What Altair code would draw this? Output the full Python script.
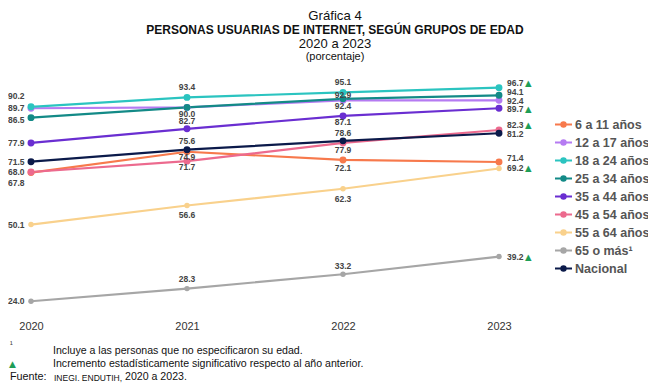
import json
import altair as alt
import pandas as pd

# ---------------- data ----------------
years = [2020, 2021, 2022, 2023]
series = ["6 a 11 años", "12 a 17 años", "18 a 24 años", "25 a 34 años",
          "35 a 44 años", "45 a 54 años", "55 a 64 años", "65 o más¹", "Nacional"]
v_6_11 = [67.8, 74.9, 72.1, 71.4]
v_12_17 = [89.7, 90.0, 92.4, 92.4]
v_18_24 = [90.2, 93.4, 95.1, 96.7]
v_25_34 = [86.5, 90.0, 92.9, 94.1]
v_35_44 = [77.9, 82.7, 87.1, 89.7]
v_45_54 = [68.0, 71.7, 77.9, 82.3]
v_55_64 = [50.1, 56.6, 62.3, 69.2]
v_65 = [24.0, 28.3, 33.2, 39.2]
v_nac = [71.5, 75.6, 78.6, 81.2]
values = [v_6_11, v_12_17, v_18_24, v_25_34, v_35_44, v_45_54, v_55_64, v_65, v_nac]
significant_2023 = ["18 a 24 años", "35 a 44 años", "45 a 54 años", "55 a 64 años", "65 o más¹"]
hidden_labels = [("12 a 17 años", 2021)]

# ---------------- style / layout ----------------
colors = ["#F7794C", "#B57BF2", "#2BC4C0", "#138A87", "#6A2ED1",
          "#EC6A8E", "#F9D18C", "#A6A6A6", "#0B1A4A"]
small_point_series = ["55 a 64 años", "65 o más¹"]
FONT = "Liberation Sans"
LABEL_COLOR = "#444444"
GREEN = "#1E9E57"

# label vertical nudges (pixels) for each (series, year)
LABEL_DY = {
    ("18 a 24 años", 2020): -11, ("6 a 11 años", 2020): 10, ("25 a 34 años", 2020): 2,
    ("18 a 24 años", 2021): -10, ("25 a 34 años", 2021): 7, ("35 a 44 años", 2021): -8,
    ("Nacional", 2021): -9, ("6 a 11 años", 2021): 5, ("45 a 54 años", 2021): 6,
    ("55 a 64 años", 2021): 10, ("65 o más¹", 2021): -10,
    ("18 a 24 años", 2022): -10, ("25 a 34 años", 2022): -4, ("12 a 17 años", 2022): 6,
    ("35 a 44 años", 2022): 6, ("Nacional", 2022): -8, ("45 a 54 años", 2022): 7,
    ("6 a 11 años", 2022): 8, ("55 a 64 años", 2022): 10, ("65 o más¹", 2022): -8,
    ("18 a 24 años", 2023): -5, ("25 a 34 años", 2023): -3, ("12 a 17 años", 2023): 1,
    ("35 a 44 años", 2023): 1, ("45 a 54 años", 2023): -5, ("Nacional", 2023): 1,
    ("6 a 11 años", 2023): -4,
}

rows = []
for s, vals in zip(series, values):
    for y, v in zip(years, vals):
        rows.append({"serie": s, "anio": y, "valor": v, "lbl": f"{v:.1f}"})
df = pd.DataFrame(rows)

x_enc = alt.X("anio:Q", scale=alt.Scale(domain=[2020, 2023], nice=False, zero=False),
              axis=alt.Axis(values=years, format="d", title=None, domain=False, ticks=False,
                            grid=False, labelFont=FONT, labelFontSize=11, labelColor="#333333",
                            labelPadding=7, labelFlush=False))
y_enc = alt.Y("valor:Q", scale=alt.Scale(domain=[20, 100], nice=False, zero=False), axis=None)
color_scale = alt.Scale(domain=series, range=colors)

LEG_PATH = ("M-1,0H1 M0.26,0A0.26,0.26 0 1,1 -0.26,0A0.26,0.26 0 1,1 0.26,0 "
            "M0.12,0A0.12,0.12 0 1,1 -0.12,0A0.12,0.12 0 1,1 0.12,0")

base = alt.Chart(df)
lines = base.mark_line(strokeWidth=2.2).encode(
    x=x_enc, y=y_enc, detail="serie:N",
    color=alt.Color("serie:N", scale=color_scale, sort=series,
                    legend=alt.Legend(title=None, orient="none", legendX=523, legendY=37,
                                      symbolType=LEG_PATH, symbolSize=289, symbolStrokeWidth=2,
                                      labelFont=FONT, labelFontSize=12.5, labelFontWeight="bold",
                                      labelColor="#555555", rowPadding=2, labelOffset=2)),
    order=alt.Order("anio:Q"),
)
points_big = base.transform_filter(
    f"indexof({json.dumps(small_point_series, ensure_ascii=False)}, datum.serie) < 0"
).mark_point(filled=True, size=48, opacity=1).encode(
    x=x_enc, y=y_enc,
    color=alt.Color("serie:N", scale=color_scale, sort=series, legend=None),
)
points_small = base.transform_filter(
    f"indexof({json.dumps(small_point_series, ensure_ascii=False)}, datum.serie) >= 0"
).mark_point(filled=True, size=30, opacity=1).encode(
    x=x_enc, y=y_enc,
    color=alt.Color("serie:N", scale=color_scale, sort=series, legend=None),
)

layers = [lines, points_big, points_small]


def sel(year, names):
    return f"datum.anio == {year} && indexof({json.dumps(names, ensure_ascii=False)}, datum.serie) >= 0"


# value labels grouped by placement
groups = {}
for s in series:
    for y in years:
        if (s, y) in hidden_labels:
            continue
        dy = LABEL_DY.get((s, y), 0)
        groups.setdefault((y, dy), []).append(s)

for (y, dy), ss in groups.items():
    if y == 2020:
        align, dx = "right", -6.5
    elif y == 2023:
        align, dx = "left", 8
    else:
        align, dx = "center", 0
    sub = base.transform_filter(sel(y, ss))
    layers.append(sub.mark_text(align=align, baseline="middle", dx=dx, dy=dy, font=FONT,
                                fontSize=8.5, fontWeight="bold", color=LABEL_COLOR).encode(
        x=x_enc, y=y_enc, text="lbl:N"))
    if y == 2023:
        sig = [s for s in ss if s in significant_2023]
        if sig:
            subs = base.transform_filter(sel(y, sig))
            layers.append(subs.mark_text(align="left", baseline="middle", dx=26, dy=dy,
                                         font="DejaVu Sans", fontSize=8.5, color=GREEN).encode(
                x=x_enc, y=y_enc, text=alt.value("▲")))

# titles and footnotes
one = alt.Chart(pd.DataFrame({"_": [0]}))


def txt(t, x, y, size, weight="normal", align="center", color="#111111", font=FONT):
    return one.mark_text(align=align, baseline="middle", fontSize=size, fontWeight=weight,
                         color=color, font=font).encode(
        x=alt.value(x), y=alt.value(y), text=alt.value(t))


layers += [
    txt("Gráfica 4", 304, -62, 13.2),
    txt("PERSONAS USUARIAS DE INTERNET, SEGÚN GRUPOS DE EDAD", 304, -48.5, 12, "bold"),
    txt("2020 a 2023", 304, -34, 13),
    txt("(porcentaje)", 304, -21, 11),
    txt("¹", -21, 267, 8, align="left"),
    txt("Incluye a las personas que no especificaron su edad.", 22, 272.5, 10.6, align="left"),
    txt("▲", -22, 286, 9, align="left", color=GREEN, font="DejaVu Sans"),
    txt("Incremento estadísticamente significativo respecto al año anterior.", 22, 286, 10.6, align="left"),
    txt("Fuente:", -21, 299, 10.8, align="left"),
    txt("INEGI. ENDUTIH,", 23, 299.5, 8.5, align="left"),
    txt("2020 a 2023.", 94, 299, 10.6, align="left"),
]

chart = alt.layer(*layers).properties(
    width=468, height=235,
    padding={"left": 23, "top": 70, "right": 149, "bottom": 71},
    autosize=alt.AutoSizeParams(type="none"),
).configure_view(strokeWidth=0)

chart.save("out.html", embed_options={"renderer": "svg", "actions": False})
